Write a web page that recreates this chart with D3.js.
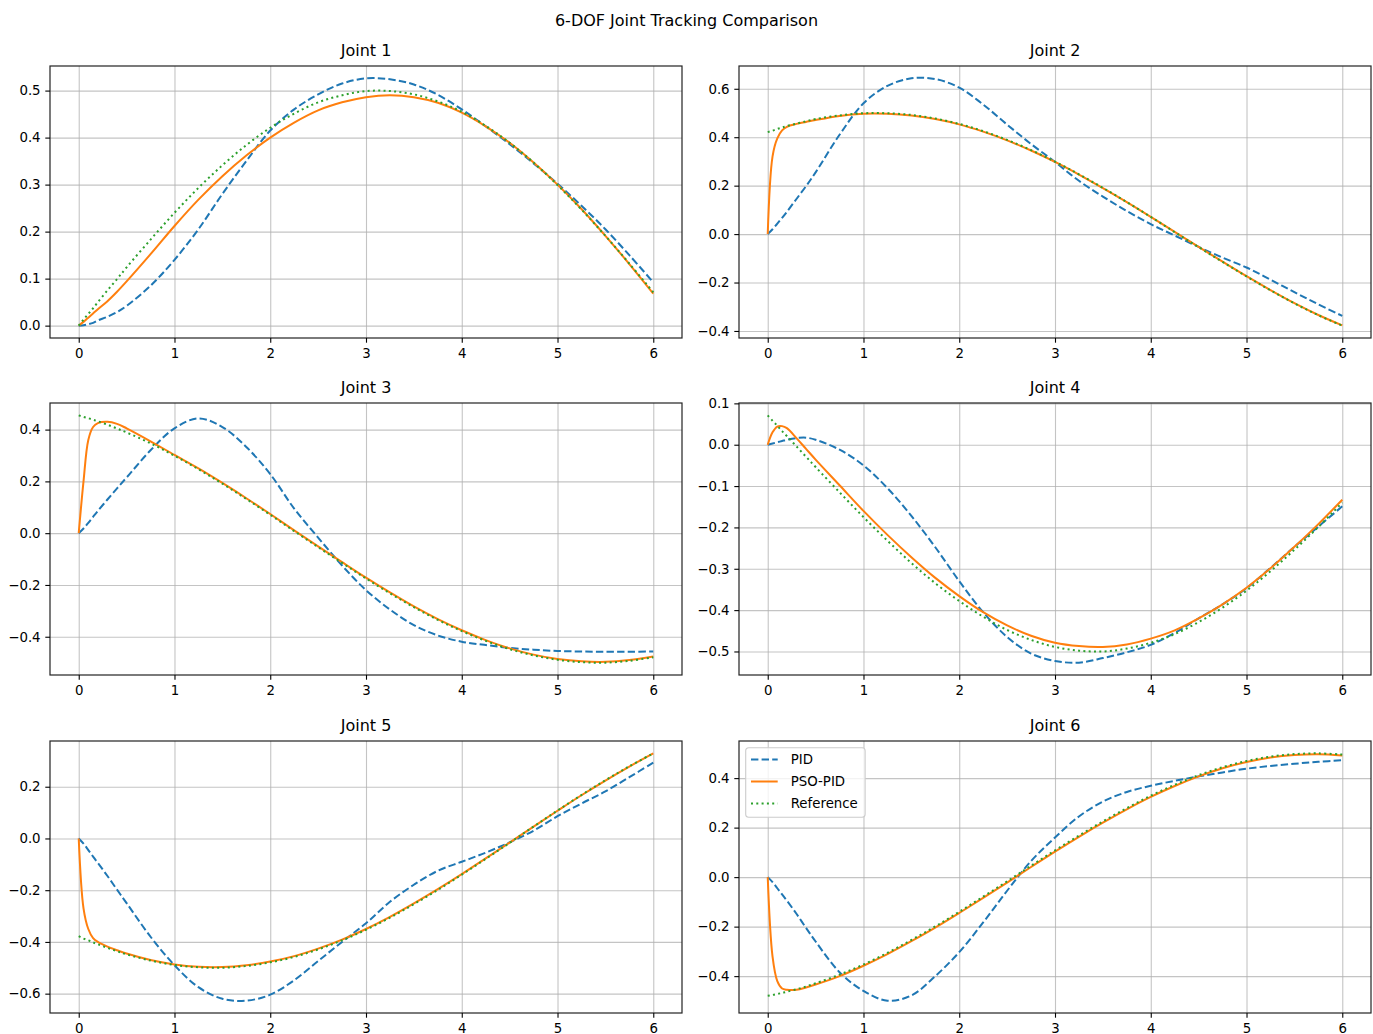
<!DOCTYPE html>
<html>
<head>
<meta charset="utf-8">
<script src="https://cdn.jsdelivr.net/npm/d3@7"></script>
<style>
  body { margin: 0; background: #fff; }
  svg text { font-family: "DejaVu Sans", sans-serif; fill: #000; }
</style>
</head>
<body>
<svg id="grafico" width="1373" height="1034"></svg>
<script>
// tempo (s) -- amostras lidas da figura, mais densas no inicio por causa do transitorio
var tempo = [0, 0.05, 0.1, 0.15, 0.2, 0.3, 0.4, 0.5, 0.75, 1, 1.25, 1.5, 1.75, 2, 2.25, 2.5, 2.75, 3, 3.25, 3.5, 3.75, 4, 4.25, 4.5, 4.75, 5, 5.25, 5.5, 5.75, 6];

var juntas = ["Joint 1", "Joint 2", "Joint 3", "Joint 4", "Joint 5", "Joint 6"];
var nomesSeries = ["PID", "PSO-PID", "Reference"];

var pidJ = [
  [0, .001, .003, .006, .011, .019, .029, .042, .085, .14, .205, .28, .35, .415, .46, .492, .515, .526, .524, .513, .491, .46, .424, .386, .345, .302, .255, .205, .15, .092],
  [0, .02, .043, .067, .092, .145, .198, .255, .41, .54, .612, .643, .64, .605, .535, .452, .372, .298, .22, .155, .095, .041, -.006, -.053, -.097, -.138, -.188, -.24, -.29, -.338],
  [0, .018, .04, .063, .086, .13, .173, .215, .32, .405, .443, .41, .333, .228, .095, -.017, -.125, -.22, -.295, -.355, -.395, -.419, -.432, -.443, -.45, -.455, -.457, -.458, -.458, -.457],
  [0, .003, .006, .009, .012, .016, .017, .012, -.012, -.05, -.105, -.172, -.248, -.33, -.405, -.465, -.505, -.523, -.527, -.516, -.502, -.484, -.455, -.42, -.386, -.347, -.298, -.247, -.198, -.149],
  [0, -.02, -.045, -.07, -.095, -.145, -.198, -.25, -.38, -.49, -.575, -.62, -.627, -.604, -.548, -.474, -.40, -.328, -.245, -.179, -.125, -.09, -.055, -.015, .03, .086, .135, .182, .237, .293],
  [0, -.02, -.045, -.07, -.095, -.148, -.205, -.26, -.384, -.46, -.499, -.478, -.40, -.303, -.183, -.055, .065, .16, .245, .305, .344, .369, .389, .407, .423, .438, .449, .458, .466, .472]
];

var psoJ = [
  [0, .008, .017, .026, .035, .052, .072, .094, .152, .212, .268, .318, .362, .400, .432, .458, .475, .486, .490, .486, .474, .453, .424, .389, .347, .300, .248, .191, .131, .068],
  [0, .32, .395, .428, .443, .455, .463, .471, .488, .497, .497, .49, .475, .453, .423, .387, .345, .298, .246, .19, .132, .071, .009, -.053, -.114, -.174, -.231, -.285, -.334, -.377],
  [0, .20, .36, .41, .425, .43, .422, .405, .355, .302, .25, .194, .135, .074, .011, -.051, -.112, -.172, -.229, -.283, -.332, -.375, -.413, -.445, -.469, -.486, -.495, -.497, -.49, -.476],
  [0, .03, .044, .045, .04, .016, -.01, -.036, -.098, -.160, -.218, -.272, -.322, -.366, -.405, -.437, -.462, -.479, -.487, -.489, -.483, -.469, -.449, -.420, -.386, -.346, -.299, -.247, -.192, -.133],
  [0, -.27, -.35, -.385, -.40, -.418, -.432, -.445, -.47, -.487, -.496, -.497, -.49, -.476, -.455, -.426, -.391, -.35, -.303, -.251, -.196, -.138, -.077, -.016, .046, .107, .167, .224, .278, .329],
  [0, -.32, -.42, -.45, -.455, -.455, -.446, -.434, -.40, -.358, -.311, -.259, -.204, -.145, -.084, -.022, .041, .103, .163, .220, .274, .324, .368, .407, .44, .465, .483, .493, .496, .491]
];

var refJ = [
  [0, .013, .025, .037, .050, .075, .099, .124, .183, .240, .293, .341, .384, .421, .451, .475, .490, .499, .499, .492, .477, .455, .425, .389, .347, .299, .247, .191, .132, .071],
  [.421, .427, .434, .440, .446, .456, .466, .475, .490, .499, .499, .492, .477, .455, .425, .389, .347, .299, .247, .191, .132, .071, .008, -.054, -.115, -.175, -.232, -.286, -.335, -.378],
  [.455, .449, .444, .438, .432, .419, .404, .389, .347, .299, .247, .191, .132, .071, .008, -.054, -.115, -.175, -.232, -.286, -.335, -.378, -.416, -.448, -.472, -.489, -.498, -.500, -.493, -.479],
  [.071, .058, .046, .033, .021, -.004, -.029, -.054, -.115, -.175, -.232, -.286, -.335, -.378, -.416, -.448, -.472, -.489, -.498, -.500, -.493, -.479, -.458, -.429, -.394, -.353, -.306, -.254, -.199, -.140],
  [-.378, -.387, -.394, -.402, -.409, -.423, -.436, -.448, -.472, -.489, -.498, -.500, -.493, -.479, -.458, -.429, -.394, -.353, -.306, -.254, -.199, -.140, -.079, -.017, .046, .108, .168, .225, .279, .329],
  [-.479, -.476, -.472, -.468, -.463, -.453, -.442, -.429, -.394, -.353, -.306, -.254, -.199, -.140, -.079, -.017, .046, .108, .168, .225, .279, .329, .373, .412, .444, .469, .487, .497, .500, .495]
];

var xTicks = [0, 1, 2, 3, 4, 5, 6];
var passoY = [0.1, 0.2, 0.2, 0.1, 0.2, 0.2];

// estilo (cores padrao do matplotlib)
var cores = ["#1f77b4", "#ff7f0e", "#2ca02c"];
var tracos = ["7.4,3.2", null, "2,3.3"];

var svg = d3.select("#grafico");
var largura = 632, altura = 272;
var colX = [50, 739];
var linY = [66, 403, 741];
var fmt = d3.format(".1f");

svg.append("text")
  .attr("x", 686.5).attr("y", 26)
  .attr("text-anchor", "middle")
  .style("font-size", "16px")
  .text("6-DOF Joint Tracking Comparison");

juntas.forEach(function(nome, i) {
  desenharPainel(nome, i);
});

// margem de 5% como no matplotlib
function margem(ext) {
  var d = ext[1] - ext[0];
  return [ext[0] - d * 0.05, ext[1] + d * 0.05];
}

function desenharPainel(nome, i) {
  var g = svg.append("g")
    .attr("transform", "translate(" + colX[i % 2] + "," + linY[Math.floor(i / 2)] + ")");

  var dados = [pidJ[i], psoJ[i], refJ[i]];

  var x = d3.scaleLinear().domain(margem(d3.extent(tempo))).range([0, largura]);
  var y = d3.scaleLinear().domain(margem(d3.extent(d3.merge(dados)))).range([altura, 0]);

  var passo = passoY[i];
  var dom = y.domain();
  var yTicks = d3.range(Math.ceil(dom[0] / passo - 1e-9), Math.floor(dom[1] / passo + 1e-9) + 1)
    .map(function(k) { return k * passo + 0; });

  // grade
  var gradeX = g.append("g")
    .attr("transform", "translate(0," + altura + ")")
    .call(d3.axisBottom(x).tickValues(xTicks).tickSize(-altura).tickFormat(""));
  var gradeY = g.append("g")
    .call(d3.axisLeft(y).tickValues(yTicks).tickSize(-largura).tickFormat(""));
  [gradeX, gradeY].forEach(function(gr) {
    gr.select(".domain").remove();
    gr.selectAll("line").attr("stroke", "#b0b0b0").attr("stroke-opacity", 0.75).attr("stroke-width", 1.1);
  });

  // linhas
  g.append("clipPath").attr("id", "clip" + i)
    .append("rect").attr("width", largura).attr("height", altura);

  var linha = d3.line()
    .x(function(d, k) { return x(tempo[k]); })
    .y(function(d) { return y(d); })
    .curve(d3.curveCatmullRom.alpha(0.5));

  var gl = g.append("g").attr("clip-path", "url(#clip" + i + ")");
  dados.forEach(function(serie, s) {
    gl.append("path")
      .datum(serie)
      .attr("d", linha)
      .attr("fill", "none")
      .attr("stroke", cores[s])
      .attr("stroke-width", 2)
      .attr("stroke-dasharray", tracos[s]);
  });

  // moldura
  g.append("rect")
    .attr("width", largura).attr("height", altura)
    .attr("fill", "none").attr("stroke", "#222").attr("stroke-width", 1.2);

  // eixos
  var eixoX = g.append("g")
    .attr("transform", "translate(0," + altura + ")")
    .call(d3.axisBottom(x).tickValues(xTicks).tickSize(4.7).tickPadding(5.5).tickFormat(d3.format("d")));
  var eixoY = g.append("g")
    .call(d3.axisLeft(y).tickValues(yTicks).tickSize(4.7).tickPadding(4.7).tickFormat(fmt));
  [eixoX, eixoY].forEach(function(e) {
    e.select(".domain").remove();
    e.attr("font-family", null).attr("font-size", null);
    e.selectAll("line").attr("stroke", "#000").attr("stroke-width", 1.1);
    e.selectAll("text").style("font-size", "13.33px").attr("fill", "#000");
  });

  // titulo do painel
  g.append("text")
    .attr("x", largura / 2).attr("y", -10)
    .attr("text-anchor", "middle")
    .style("font-size", "16px")
    .text(nome);

  if (i === 5) desenharLegenda(g);
}

function desenharLegenda(g) {
  var fs = 13.33;
  var lx = 6.7, ly = 6.7, pad = 5.3, alt = 22;
  var leg = g.append("g").attr("transform", "translate(" + lx + "," + ly + ")");

  var caixa = leg.append("rect")
    .attr("rx", 3).attr("ry", 3)
    .attr("fill", "#fff").attr("fill-opacity", 0.8)
    .attr("stroke", "#cccccc").attr("stroke-width", 1.1);

  var maxW = 0;
  nomesSeries.forEach(function(nome, s) {
    var cy = pad + 6.5 + s * alt;
    leg.append("line")
      .attr("x1", pad).attr("x2", pad + 26.7)
      .attr("y1", cy).attr("y2", cy)
      .attr("stroke", cores[s]).attr("stroke-width", 2)
      .attr("stroke-dasharray", tracos[s]);
    var t = leg.append("text")
      .attr("x", pad + 26.7 + 13).attr("y", cy)
      .attr("dy", "0.35em")
      .style("font-size", fs + "px")
      .text(nome);
    maxW = Math.max(maxW, t.node().getComputedTextLength());
  });

  caixa.attr("width", pad + 26.7 + 13 + maxW + pad + 2)
    .attr("height", pad * 2 + 13 + (nomesSeries.length - 1) * alt + 2);
}
</script>
</body>
</html>
